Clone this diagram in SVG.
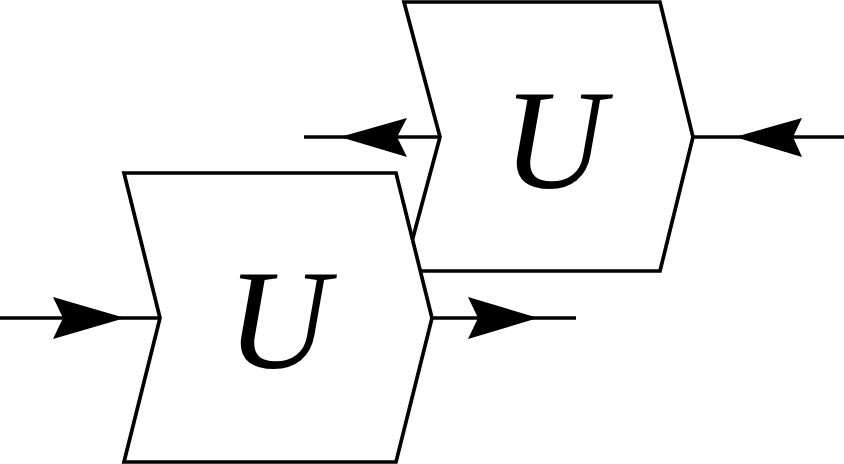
<svg xmlns="http://www.w3.org/2000/svg" width="844" height="464" viewBox="0 0 844 464">
<style>
.box{fill:#fff;stroke:#000;stroke-width:3.7;stroke-linejoin:miter}
.wire{stroke:#000;stroke-width:3.7;fill:none}
.head{fill:#000;stroke:none}
.lbl{font-family:"Liberation Serif",serif;font-style:italic;font-size:142px;fill:#000}
</style>
<rect width="844" height="464" fill="#fff"/>
<g id="node-top">
<path class="box" d="M404,2 L660,2 L693,137 L660,271 L404,271 L440,137 Z"/>
<text class="lbl" x="554" y="188" text-anchor="middle">U</text>
</g>
<g id="node-bottom">
<path class="box" d="M124,173 L396,173 L432,318 L396,462 L124,462 L160,318 Z"/>
<text class="lbl" x="278" y="368" text-anchor="middle">U</text>
</g>
<g id="connectors">
<line class="wire" x1="0" y1="318" x2="160" y2="318"/>
<path class="head" d="M125,318 L53,297 L63,318 L53,339 Z"/>
<line class="wire" x1="432" y1="318" x2="576" y2="318"/>
<path class="head" d="M538,318 L468,297 L478,318 L468,339 Z"/>
<line class="wire" x1="304" y1="137" x2="440" y2="137"/>
<path class="head" d="M340,137 L407,118 L397,137 L407,157 Z"/>
<line class="wire" x1="693" y1="137" x2="844" y2="137"/>
<path class="head" d="M735,137 L802,118 L793,137 L802,157 Z"/>
</g>
</svg>
